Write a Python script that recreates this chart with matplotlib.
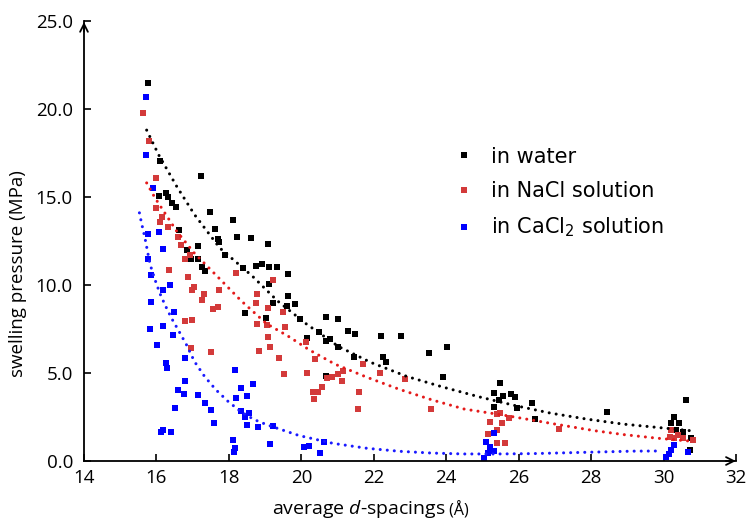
import numpy as np
import matplotlib
matplotlib.use("Agg")
import matplotlib.pyplot as plt

# swelling pressure vs. average d-spacing
water_x = [15.77, 16.11, 17.22, 16.07, 16.26, 16.32, 16.44, 16.55, 17.49, 18.11,
           17.62, 16.63, 17.70, 18.23, 18.60, 17.14, 16.85, 17.73, 16.95, 17.14,
           17.90, 19.07, 17.26, 17.35, 18.39, 18.74, 18.92, 19.10, 19.33, 19.63,
           19.10, 19.64, 19.23, 18.45, 19.03, 19.60, 19.83, 19.96, 20.68, 21.00,
           20.49, 21.30, 21.48, 22.19, 22.76, 24.03, 23.52, 20.15, 20.68, 20.80,
           21.00, 21.45, 22.26, 22.33, 20.68, 23.92, 25.49, 25.33, 25.58, 25.79,
           25.90, 25.45, 26.36, 25.95, 25.31, 26.45, 28.43, 30.62, 30.30, 30.44,
           30.21, 30.53, 30.76, 30.72, 30.35]
water_y = [21.5, 17.06, 16.2, 15.06, 15.25, 14.98, 14.64, 14.45, 14.17, 13.7,
           13.2, 13.1, 12.6, 12.7, 12.65, 12.2, 12.0, 12.46, 11.5, 11.5,
           11.7, 12.33, 11.0, 10.8, 10.95, 11.08, 11.2, 11.04, 11.0, 10.63,
           10.04, 9.4, 8.96, 8.39, 8.15, 8.8, 8.92, 8.07, 8.16, 8.05,
           7.31, 7.39, 7.2, 7.1, 7.1, 6.5, 6.12, 7.0, 6.84, 6.91,
           6.5, 5.89, 5.89, 5.64, 4.83, 4.79, 4.45, 3.88, 3.69, 3.8,
           3.62, 3.47, 3.31, 2.99, 3.05, 2.36, 2.76, 3.47, 2.52, 2.14,
           2.14, 1.65, 1.29, 0.63, 1.76]

nacl_x = [15.63, 15.80, 15.98, 15.98, 16.14, 16.11, 16.32, 16.60, 16.69, 16.94,
          16.78, 16.35, 18.21, 16.88, 17.05, 16.99, 17.73, 19.23, 17.30, 17.26,
          18.78, 18.75, 17.56, 17.70, 19.07, 16.78, 16.99, 18.77, 19.05, 19.07,
          16.95, 19.14, 18.84, 17.51, 19.38, 19.49, 19.56, 20.12, 20.37, 21.70,
          20.17, 19.53, 21.14, 21.00, 20.86, 20.72, 21.12, 22.17, 22.85, 20.57,
          20.47, 20.31, 21.59, 20.34, 21.56, 23.59, 25.49, 25.40, 25.72, 25.54,
          25.22, 25.40, 25.15, 25.61, 25.40, 27.10, 30.21, 30.17, 30.30, 30.53,
          30.81, 30.40]
nacl_y = [19.8, 18.2, 16.06, 14.4, 13.84, 13.56, 13.3, 12.7, 12.27, 11.7,
          11.46, 10.85, 10.66, 10.47, 9.9, 9.7, 9.7, 10.28, 9.49, 9.15,
          9.47, 8.96, 8.64, 8.73, 8.67, 7.95, 8.0, 7.77, 7.73, 7.03,
          6.4, 6.46, 6.27, 6.17, 5.84, 8.47, 7.63, 6.74, 5.78, 5.51,
          5.02, 4.94, 5.11, 4.94, 4.79, 4.73, 4.56, 5.02, 4.64, 4.19,
          3.9, 3.9, 3.9, 3.5, 2.94, 2.94, 2.75, 2.67, 2.46, 2.14,
          2.24, 1.76, 1.53, 1.04, 1.0, 1.8, 1.76, 1.38, 1.29, 1.29,
          1.19, 1.45]

cacl2_x = [15.70, 15.70, 15.91, 15.77, 16.07, 16.18, 15.77, 15.86, 16.37, 16.18,
           15.84, 16.49, 16.18, 15.83, 16.47, 16.02, 16.80, 16.26, 16.28, 18.18,
           16.80, 18.67, 18.34, 16.60, 16.76, 17.14, 18.50, 18.19, 17.35, 16.52,
           17.51, 18.34, 18.55, 18.44, 17.59, 18.50, 18.79, 19.21, 16.18, 16.12,
           16.40, 18.11, 19.14, 18.16, 18.14, 20.08, 20.22, 20.63, 20.52, 25.33,
           25.10, 25.22, 25.33, 25.15, 25.03, 30.30, 30.21, 30.07, 30.67, 30.15]
cacl2_y = [20.7, 17.4, 15.5, 12.9, 13.0, 12.05, 11.5, 10.57, 10.0, 9.7,
           9.05, 8.49, 7.69, 7.48, 7.16, 6.6, 5.84, 5.55, 5.27, 5.17,
           4.56, 4.36, 4.13, 4.03, 3.81, 3.75, 3.69, 3.56, 3.31, 2.99,
           2.9, 2.84, 2.7, 2.52, 2.14, 2.05, 1.95, 1.99, 1.76, 1.63,
           1.67, 1.19, 0.97, 0.72, 0.53, 0.81, 0.87, 1.06, 0.47, 1.61,
           1.1, 0.78, 0.59, 0.47, 0.15, 0.91, 0.63, 0.24, 0.53, 0.40]

# dotted trend lines
water_fit_x = [15.73, 16.06, 16.56, 17.05, 17.75, 18.65, 19.34, 20.13, 21.03, 21.92,
               22.92, 23.91, 24.9, 25.9, 26.88, 27.88, 28.87, 29.87, 30.75]
water_fit_y = [18.8, 17.4, 15.6, 14.0, 12.1, 10.5, 9.1, 7.8, 6.5, 5.6,
               4.8, 4.2, 3.65, 3.15, 2.72, 2.38, 2.1, 1.9, 1.72]
nacl_fit_x = [15.73, 15.96, 16.26, 16.56, 17.05, 17.65, 18.34, 19.04, 19.63, 20.23,
              20.93, 21.82, 22.71, 23.61, 24.5, 25.6, 27.0, 28.1, 28.9, 29.8, 30.8]
nacl_fit_y = [15.8, 14.95, 14.0, 13.05, 11.8, 10.55, 9.1, 7.8, 7.1, 6.3,
              5.5, 4.75, 4.07, 3.47, 2.95, 2.6, 2.1, 1.72, 1.5, 1.3, 1.12]
cacl2_fit_x = [15.53, 15.59, 15.68, 15.82, 15.96, 16.1, 16.24, 16.42, 16.6, 16.83,
               17.05, 17.33, 17.64, 17.97, 18.33, 18.69, 19.06, 19.93, 20.88, 21.82,
               22.72, 23.61, 24.5, 25.4, 26.39, 27.38, 28.37, 29.17, 29.95]
cacl2_fit_y = [14.1, 13.5, 12.7, 11.2, 10.3, 9.5, 8.85, 8.1, 7.45, 6.6,
               5.65, 4.8, 4.05, 3.4, 2.8, 2.36, 2.05, 1.45, 1.0, 0.72,
               0.55, 0.45, 0.4, 0.4, 0.42, 0.47, 0.52, 0.56, 0.57]

x_ticks = [14, 16, 18, 20, 22, 24, 26, 28, 30, 32]
y_ticks = [0, 5, 10, 15, 20, 25]

plt.rcParams['font.family'] = ['Open Sans', 'DejaVu Sans']
plt.rcParams['mathtext.fontset'] = 'custom'
plt.rcParams['mathtext.it'] = 'Open Sans:italic'
plt.rcParams['mathtext.rm'] = 'DejaVu Sans'

fig = plt.figure(figsize=(7.47, 5.19), dpi=100)
ax = fig.add_axes([84 / 747, 58 / 519, 652 / 747, 440 / 519])

red = '#d33a3a'
ax.plot(water_x, water_y, 's', color='black', ms=5, mew=0, label='in water')
ax.plot(nacl_x, nacl_y, 's', color=red, ms=5, mew=0, label='in NaCl solution')
ax.plot(cacl2_x, cacl2_y, 's', color='#0000ff', ms=5, mew=0, label='in CaCl$\\mathrm{_2}$ solution')

dots = dict(lw=2.2, ls=(0, (0.01, 2.3)), dash_capstyle='round')
ax.plot(water_fit_x, water_fit_y, color='black', **dots)
ax.plot(nacl_fit_x, nacl_fit_y, color='#e41a1a', **dots)
ax.plot(cacl2_fit_x, cacl2_fit_y, color='#1a1aff', **dots)

ax.set_xlim(14, 32)
ax.set_ylim(0, 25)
ax.set_xticks(x_ticks)
ax.set_yticks(y_ticks)
ax.set_yticklabels(['%.1f' % v for v in y_ticks])
ax.tick_params(axis='both', direction='in', length=5, width=1.2, labelsize=13.5)
ax.tick_params(axis='y', pad=8)
ax.tick_params(axis='x', pad=6)
for s in ['top', 'right']:
    ax.spines[s].set_visible(False)
for s in ['left', 'bottom']:
    ax.spines[s].set_linewidth(1.3)

# arrow heads on the axes
ax.annotate('', xy=(1.004, 0), xytext=(0.98, 0), xycoords='axes fraction',
            arrowprops=dict(arrowstyle='->', lw=1.3, color='black', mutation_scale=14))
ax.annotate('', xy=(0, 1.004), xytext=(0, 0.97), xycoords='axes fraction',
            arrowprops=dict(arrowstyle='->', lw=1.3, color='black', mutation_scale=14))

ax.text(-0.101, 0.427, 'swelling pressure (MPa)', transform=ax.transAxes,
        rotation=90, ha='center', va='center', fontsize=13.5)
xl = ax.text(0.288, -0.108, 'average $\\mathit{d}$-spacings', transform=ax.transAxes,
             ha='left', va='center', fontsize=14)
ax.annotate(' (Å)', xy=(1, 0.42), xycoords=xl, ha='left', va='center', fontsize=11.5)

leg = ax.legend(loc='upper left', bbox_to_anchor=(0.545, 0.757), frameon=False,
                handlelength=0.6, handletextpad=1.0, markerscale=0.75,
                labelspacing=0.7, prop={'family': 'DejaVu Sans', 'size': 15})

fig.savefig('out.png', dpi=100)
